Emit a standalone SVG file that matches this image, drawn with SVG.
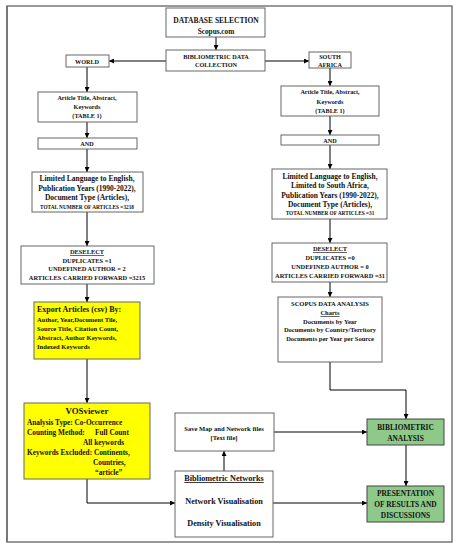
<svg xmlns="http://www.w3.org/2000/svg" width="459" height="550" viewBox="0 0 459 550">
<defs>
<marker id="ah" viewBox="0 0 10 10" refX="10" refY="5" markerWidth="5" markerHeight="5" markerUnits="userSpaceOnUse" orient="auto">
<path d="M0,0 L10,5 L0,10 z" fill="#000"/>
</marker>
</defs>
<style>
.box{fill:#fff;stroke:#666;stroke-width:1}
.yel{fill:#ffff00;stroke:#666;stroke-width:1}
.grn{fill:#8ec98a;stroke:#444;stroke-width:1}
.t{font-family:"Liberation Serif","DejaVu Serif",serif;font-weight:bold;fill:#111;text-anchor:middle}
.l{text-anchor:start}
.c{fill:none;stroke:#000;stroke-width:1;marker-end:url(#ah)}
.u{text-decoration:underline}
</style>
<rect x="7" y="6" width="445" height="536" fill="#fff" stroke="#777" stroke-width="1.5"/>
<line x1="7" y1="6" x2="7" y2="542" stroke="#777" stroke-width="2"/>

<g id="connectors">
<line class="c" x1="216" y1="37" x2="216" y2="50"/>
<line class="c" x1="166" y1="61" x2="109" y2="61"/>
<line class="c" x1="265" y1="61" x2="309" y2="61"/>
<line class="c" x1="87" y1="67" x2="87" y2="92"/>
<line class="c" x1="87" y1="122" x2="87" y2="138"/>
<line class="c" x1="87" y1="149" x2="87" y2="172"/>
<line class="c" x1="87" y1="212" x2="87" y2="246"/>
<line class="c" x1="87" y1="284" x2="87" y2="302"/>
<line class="c" x1="87" y1="359" x2="87" y2="403"/>
<polyline class="c" points="87,479 87,503 175,503"/>
<line class="c" x1="224" y1="471" x2="224" y2="451"/>
<line class="c" x1="274" y1="432" x2="367" y2="432"/>
<line class="c" x1="273" y1="503" x2="367" y2="503"/>
<line class="c" x1="406" y1="445" x2="406" y2="486"/>
<line class="c" x1="330" y1="68" x2="330" y2="86"/>
<line class="c" x1="330" y1="116" x2="330" y2="135"/>
<line class="c" x1="330" y1="145" x2="330" y2="169"/>
<line class="c" x1="330" y1="219" x2="330" y2="243"/>
<line class="c" x1="330" y1="282" x2="330" y2="297"/>
<polyline class="c" points="330,362 330,390 406,390 406,419"/>
</g>

<g id="db">
<rect class="box" x="166" y="8" width="99" height="29"/>
<text class="t" x="216" y="23" font-size="7.5">DATABASE SELECTION</text>
<text class="t" x="216" y="34" font-size="7.3">Scopus.com</text>
</g>
<g id="collection">
<rect class="box" x="166" y="50" width="99" height="21"/>
<text class="t" x="216" y="58.5" font-size="6.2">BIBLIOMETRIC DATA</text>
<text class="t" x="216" y="67" font-size="6.2">COLLECTION</text>
</g>
<g id="world">
<rect class="box" x="66" y="55" width="43" height="12"/>
<text class="t" x="87" y="63.5" font-size="6.2">WORLD</text>
</g>
<g id="sa">
<rect class="box" x="309" y="52" width="42" height="16"/>
<text class="t" x="330" y="59" font-size="6.2">SOUTH</text>
<text class="t" x="330" y="66.5" font-size="6.2">AFRICA</text>
</g>

<g id="w-article">
<rect class="box" x="38" y="92" width="99" height="30"/>
<text class="t" x="87" y="100" font-size="6.2">Article Title, Abstract,</text>
<text class="t" x="87" y="109" font-size="6.2">Keywords</text>
<text class="t" x="87" y="118" font-size="6.2">(TABLE 1)</text>
</g>
<g id="w-and">
<rect class="box" x="38" y="138" width="99" height="11"/>
<text class="t" x="87" y="146" font-size="6.2">AND</text>
</g>
<g id="w-limited">
<rect class="box" x="32" y="172" width="111" height="40"/>
<text class="t" x="87" y="181" font-size="7.5">Limited Language to English,</text>
<text class="t" x="87" y="190.5" font-size="7.5">Publication Years (1990-2022),</text>
<text class="t" x="87" y="200" font-size="7.5">Document Type (Articles),</text>
<text class="t" x="87" y="208.5" font-size="5.3">TOTAL NUMBER OF ARTICLES =3218</text>
</g>
<g id="w-deselect">
<rect class="box" x="21" y="246" width="133" height="38"/>
<text class="t u" x="87" y="254" font-size="6.4">DESELECT</text>
<text class="t" x="87" y="262.5" font-size="6.4">DUPLICATES =1</text>
<text class="t" x="87" y="271" font-size="6.4">UNDEFINED AUTHOR = 2</text>
<text class="t" x="87" y="279.5" font-size="6.4">ARTICLES CARRIED FORWARD =3215</text>
</g>
<g id="w-export">
<rect class="yel" x="34" y="302" width="106" height="57"/>
<text class="t l" x="37" y="312" font-size="8">Export Articles (csv) By:</text>
<text class="t l" x="37" y="321.5" font-size="6.6">Author, Year,Document Tile,</text>
<text class="t l" x="37" y="330.5" font-size="6.6">Source Title, Citation Count,</text>
<text class="t l" x="37" y="339.5" font-size="6.6">Abstract, Author Keywords,</text>
<text class="t l" x="37" y="348.5" font-size="6.6">Indexed Keywords</text>
</g>
<g id="vos">
<rect class="yel" x="24" y="403" width="126" height="76"/>
<text class="t" x="87" y="414" font-size="8.8">VOSviewer</text>
<text class="t l" x="27" y="425" font-size="7.3">Analysis Type: Co-Occurrence</text>
<text class="t l" x="27" y="435" font-size="7.3">Counting Method:</text>
<text class="t l" x="95" y="435" font-size="7.3">Full Count</text>
<text class="t l" x="83" y="445" font-size="7.3">All keywords</text>
<text class="t l" x="27" y="455" font-size="7.3">Keywords Excluded: Continents,</text>
<text class="t l" x="93" y="465" font-size="7.3">Countries,</text>
<text class="t l" x="95" y="475" font-size="7.3">“article”</text>
</g>
<g id="savemap">
<rect class="box" x="175" y="413" width="99" height="38"/>
<text class="t" x="224" y="431" font-size="6.6">Save Map and Network files</text>
<text class="t" x="224" y="440" font-size="6.6">[Text file]</text>
</g>
<g id="networks">
<rect class="box" x="175" y="471" width="98" height="66"/>
<text class="t u" x="224" y="481" font-size="8.2">Bibliometric Networks</text>
<text class="t" x="224" y="504" font-size="8.2">Network Visualisation</text>
<text class="t" x="224" y="526" font-size="8.2">Density Visualisation</text>
</g>

<g id="sa-article">
<rect class="box" x="281" y="86" width="98" height="30"/>
<text class="t" x="330" y="94" font-size="6.2">Article Title, Abstract,</text>
<text class="t" x="330" y="104" font-size="6.2">Keywords</text>
<text class="t" x="330" y="112.5" font-size="6.2">(TABLE 1)</text>
</g>
<g id="sa-and">
<rect class="box" x="281" y="135" width="98" height="10"/>
<text class="t" x="330" y="142.5" font-size="6.2">AND</text>
</g>
<g id="sa-limited">
<rect class="box" x="272" y="169" width="115" height="50"/>
<text class="t" x="330" y="178.5" font-size="7.5">Limited Language to English,</text>
<text class="t" x="330" y="188" font-size="7.5">Limited to South Africa,</text>
<text class="t" x="330" y="197.5" font-size="7.5">Publication Years (1990-2022),</text>
<text class="t" x="330" y="207" font-size="7.5">Document Type (Articles),</text>
<text class="t" x="330" y="215" font-size="5.3">TOTAL NUMBER OF ARTICLES =31</text>
</g>
<g id="sa-deselect">
<rect class="box" x="272" y="243" width="115" height="39"/>
<text class="t u" x="330" y="251" font-size="6.4">DESELECT</text>
<text class="t" x="330" y="260" font-size="6.4">DUPLICATES =0</text>
<text class="t" x="330" y="269" font-size="6.4">UNDEFINED AUTHOR = 0</text>
<text class="t" x="330" y="277.5" font-size="6.4">ARTICLES CARRIED FORWARD =31</text>
</g>
<g id="scopus">
<rect class="box" x="278" y="297" width="104" height="65"/>
<text class="t" x="330" y="306" font-size="6.5">SCOPUS DATA ANALYSIS</text>
<text class="t u" x="330" y="315" font-size="6.5">Charts</text>
<text class="t" x="330" y="323.5" font-size="6.5">Documents by Year</text>
<text class="t" x="330" y="332" font-size="6.5">Documents by Country/Territory</text>
<text class="t" x="330" y="340.5" font-size="6.5">Documents per Year per Source</text>
</g>
<g id="analysis">
<rect class="grn" x="367" y="419" width="77" height="26"/>
<text class="t" x="405.5" y="430" font-size="7.4">BIBLIOMETRIC</text>
<text class="t" x="405.5" y="441" font-size="7.4">ANALYSIS</text>
</g>
<g id="presentation">
<rect class="grn" x="367" y="486" width="77" height="36"/>
<text class="t" x="405.5" y="496" font-size="7.4">PRESENTATION</text>
<text class="t" x="405.5" y="507" font-size="7.4">OF RESULTS AND</text>
<text class="t" x="405.5" y="517.5" font-size="7.4">DISCUSSIONS</text>
</g>
</svg>
